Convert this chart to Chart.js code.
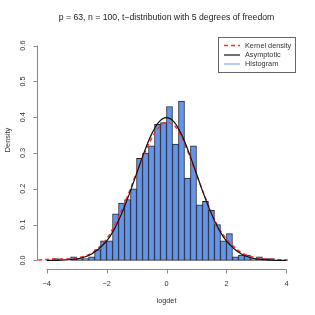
<!DOCTYPE html>
<html>
<head>
<meta charset="utf-8">
<script src="https://cdn.jsdelivr.net/npm/chart.js@4"></script>
<style>
  html, body { margin: 0; padding: 0; background: #fff; }
  #c { display: block; }
</style>
</head>
<body>
<canvas id="c" width="315" height="315"></canvas>
<script>
'use strict';

// histogram bins (centres, width 0.2) and their densities
const binCentres = [-3.7, -3.5, -3.3, -3.1, -2.9, -2.7, -2.5, -2.3, -2.1, -1.9,
  -1.7, -1.5, -1.3, -1.1, -0.9, -0.7, -0.5, -0.3, -0.1, 0.1,
  0.3, 0.5, 0.7, 0.9, 1.1, 1.3, 1.5, 1.7, 1.9, 2.1,
  2.3, 2.5, 2.7, 2.9, 3.1, 3.3, 3.5];
const histDensity = [0.005, 0, 0, 0.01, 0.005, 0.005, 0.01, 0.03, 0.055, 0.055,
  0.13, 0.16, 0.17, 0.2, 0.285, 0.3, 0.32, 0.38, 0.385, 0.43,
  0.325, 0.445, 0.23, 0.32, 0.155, 0.165, 0.14, 0.1, 0.055, 0.075,
  0.01, 0.015, 0.015, 0.005, 0.01, 0.005, 0.005];

// asymptotic curve
const asymX = [-4, -3.5, -3, -2.5, -2, -1.75, -1.5, -1.25, -1, -0.75, -0.5, -0.25, 0,
  0.25, 0.5, 0.75, 1, 1.25, 1.5, 1.75, 2, 2.5, 3, 3.5, 4];
const asymY = [0, 0.001, 0.004, 0.018, 0.054, 0.086, 0.13, 0.183, 0.242, 0.301, 0.352, 0.387, 0.399,
  0.387, 0.352, 0.301, 0.242, 0.183, 0.13, 0.086, 0.054, 0.018, 0.004, 0.001, 0];

// kernel density curve
const kdeX = [-4.28, -3.75, -3.5, -3, -2.5, -2, -1.75, -1.5, -1.25, -1, -0.75, -0.5, -0.25, 0,
  0.25, 0.5, 0.75, 1, 1.25, 1.5, 1.75, 2, 2.5, 3, 3.5, 4.05];
const kdeY = [0.001, 0.004, 0.004, 0.007, 0.02, 0.06, 0.095, 0.14, 0.19, 0.245, 0.295, 0.34, 0.372, 0.385,
  0.378, 0.345, 0.295, 0.24, 0.185, 0.135, 0.09, 0.06, 0.022, 0.007, 0.003, 0.001];

const xTicks = [-4, -2, 0, 2, 4];
const yTicks = [0, 0.1, 0.2, 0.3, 0.4, 0.5, 0.6];

const titleText = 'p = 63, n = 100, t\u2212distribution with 5 degrees of freedom';
const FONT = '"Liberation Sans", Arial, Helvetica, sans-serif';

function fmtTick(v) {
  return (v < 0 ? '\u2212' : '') + Math.abs(v);
}

const rAxes = {
  id: 'rAxes',
  afterDraw(chart) {
    const ctx = chart.ctx;
    const xs = chart.scales.x, ys = chart.scales.y, ca = chart.chartArea;
    ctx.save();
    ctx.strokeStyle = '#8a8a8a';
    ctx.lineWidth = 1;
    ctx.fillStyle = '#333';
    ctx.font = '7.3px ' + FONT;

    // x axis
    const yAx = Math.round(ca.bottom) + 0.5;
    ctx.beginPath();
    ctx.moveTo(xs.getPixelForValue(xTicks[0]), yAx);
    ctx.lineTo(xs.getPixelForValue(xTicks[xTicks.length - 1]), yAx);
    xTicks.forEach(t => {
      const px = Math.round(xs.getPixelForValue(t)) + 0.5;
      ctx.moveTo(px, yAx);
      ctx.lineTo(px, yAx + 4);
    });
    ctx.stroke();
    ctx.textAlign = 'center';
    ctx.textBaseline = 'middle';
    xTicks.forEach(t => ctx.fillText(fmtTick(t), xs.getPixelForValue(t), 283.5));

    // y axis
    const xAx = Math.round(ca.left) + 0.5;
    ctx.beginPath();
    ctx.moveTo(xAx, ys.getPixelForValue(yTicks[0]));
    ctx.lineTo(xAx, ys.getPixelForValue(yTicks[yTicks.length - 1]));
    yTicks.forEach(t => {
      const py = Math.round(ys.getPixelForValue(t)) + 0.5;
      ctx.moveTo(xAx, py);
      ctx.lineTo(xAx - 4, py);
    });
    ctx.stroke();
    yTicks.forEach(t => {
      ctx.save();
      ctx.translate(23, ys.getPixelForValue(t));
      ctx.rotate(-Math.PI / 2);
      ctx.fillText(t.toFixed(1), 0, 0);
      ctx.restore();
    });

    // axis titles and main title
    ctx.fillText('logdet', (ca.left + ca.right) / 2, 301);
    ctx.save();
    ctx.translate(8, 140);
    ctx.rotate(-Math.PI / 2);
    ctx.fillText('Density', 0, 0);
    ctx.restore();
    ctx.font = '8.7px ' + FONT;
    ctx.fillStyle = '#222';
    ctx.fillText(titleText, (ca.left + ca.right) / 2, 17.5);

    // legend box, top right
    ctx.strokeStyle = '#666';
    ctx.strokeRect(218.5, 37.5, 77, 35);
    const items = [
      { label: 'Kernel density', color: '#ff2a2a', dash: [4, 3], y: 45.5 },
      { label: 'Asymptotic', color: '#222', dash: [], y: 55 },
      { label: 'Histogram', color: '#8fb1f2', dash: [], y: 64 }
    ];
    ctx.font = '7.3px ' + FONT;
    ctx.textAlign = 'left';
    ctx.fillStyle = '#333';
    items.forEach(it => {
      ctx.beginPath();
      ctx.strokeStyle = it.color;
      ctx.lineWidth = 1.3;
      ctx.setLineDash(it.dash);
      ctx.moveTo(224, it.y);
      ctx.lineTo(240, it.y);
      ctx.stroke();
      ctx.setLineDash([]);
      ctx.fillText(it.label, 245, it.y);
    });
    ctx.restore();
  }
};

new Chart(document.getElementById('c'), {
  data: {
    datasets: [
      {
        type: 'line',
        label: 'Asymptotic',
        data: asymX.map((x, i) => ({ x: x, y: asymY[i] })),
        borderColor: '#111',
        borderWidth: 1.2,
        pointRadius: 0,
        cubicInterpolationMode: 'monotone',
        order: 1
      },
      {
        type: 'line',
        label: 'Kernel density',
        data: kdeX.map((x, i) => ({ x: x, y: kdeY[i] })),
        borderColor: '#ff2a2a',
        borderWidth: 1.4,
        borderDash: [4, 3],
        pointRadius: 0,
        cubicInterpolationMode: 'monotone',
        order: 2
      },
      {
        type: 'bar',
        label: 'Histogram',
        data: binCentres.map((x, i) => ({ x: x, y: histDensity[i] })),
        backgroundColor: '#6495ed',
        borderColor: '#1e2633',
        borderWidth: 1,
        borderSkipped: false,
        barPercentage: 1,
        categoryPercentage: 1,
        order: 3
      }
    ]
  },
  options: {
    responsive: false,
    animation: false,
    devicePixelRatio: 1,
    layout: { padding: { left: 37, top: 37, right: 19, bottom: 46 } },
    scales: {
      x: { type: 'linear', min: -4.32, max: 4.32, offset: false, display: false },
      y: { type: 'linear', min: -0.024, max: 0.624, display: false }
    },
    plugins: {
      legend: { display: false },
      title: { display: false },
      tooltip: { enabled: false }
    }
  },
  plugins: [rAxes]
});
</script>
</body>
</html>
